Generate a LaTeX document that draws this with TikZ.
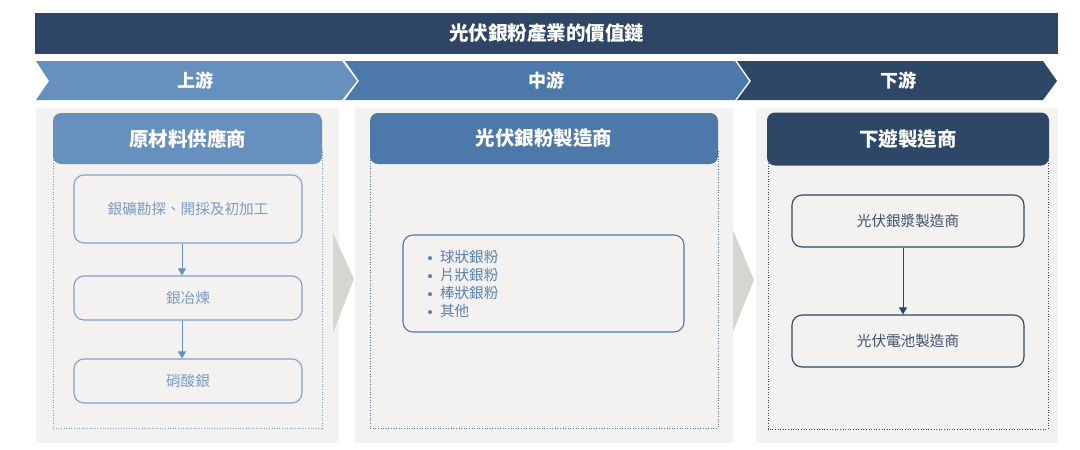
\documentclass[tikz,border=0pt]{standalone}
\usepackage{fontspec}
\newfontfamily\cjk{Noto Sans CJK TC}
\usetikzlibrary{arrows.meta}
\definecolor{cBanner}{RGB}{47,69,101}
\definecolor{cUp}{RGB}{102,144,190}
\definecolor{cMid}{RGB}{76,120,170}
\definecolor{cDown}{RGB}{46,71,102}
\definecolor{cPanel}{RGB}{243,242,240}
\definecolor{cArrowGray}{RGB}{214,214,208}
\definecolor{cUpLine}{RGB}{127,161,203}
\definecolor{cUpText}{RGB}{122,156,200}
\definecolor{cMidText}{RGB}{88,128,178}
\definecolor{cDownText}{RGB}{62,82,110}
\newcommand{\mybullet}{\makebox[12pt][l]{\raisebox{0.25ex}{\tikz\fill[cMidText] (0,0) circle (2pt);}}}
\tikzset{
  every node/.style={font=\cjk},
  chevtext/.style={text=white,font=\cjk\bfseries\fontsize{18}{21}\selectfont},
  headbox/.style={rounded corners=8pt,minimum width=269pt,minimum height=51pt,text=white,font=\cjk\bfseries\fontsize{19.5}{23}\selectfont},
  dotbox/.style={dash pattern=on 1pt off 1.6pt,line width=1pt},
  itembox/.style={draw,rounded corners=10pt,line width=1.1pt,font=\cjk\fontsize{14.6}{18}\selectfont},
  flow/.style={line width=1pt,-{Triangle[width=8pt,length=7pt]}},
}
\begin{document}
\begin{tikzpicture}[x=1pt,y=-1pt]
\useasboundingbox[fill=white] (0,0) rectangle (1080,450);
% banner
\node[fill=cBanner,minimum width=1023pt,minimum height=41pt,text=white,font=\cjk\bfseries\fontsize{19.5}{23}\selectfont] (title) at (546.5,33.5) {光伏銀粉產業的價值鏈};
% chevrons
\fill[cUp] (36,61) -- (49,81) -- (36,100) -- (342,100) -- (357,81) -- (342,61) -- cycle;
\fill[cMid] (345,61) -- (359,81) -- (345,100) -- (735,100) -- (749,81) -- (735,61) -- cycle;
\fill[cDown] (737,61) -- (751,81) -- (737,100) -- (1043,100) -- (1057,81) -- (1043,61) -- cycle;
\node[chevtext] (up) at (195,81) {上游};
\node[chevtext] (mid) at (546,81) {中游};
\node[chevtext] (down) at (898,81) {下游};
% panels
\fill[cPanel] (36,108) rectangle (339,443);
\fill[cPanel] (355,108) rectangle (733,443);
\fill[cPanel] (756,108) rectangle (1058,443);
% gray arrows
\fill[cArrowGray] (333,233) -- (354,279) -- (333,333) -- cycle;
\fill[cArrowGray] (733,230) -- (754,280) -- (733,332) -- cycle;
% dotted frames
\draw[dotbox,draw=cUpLine] (53,150) rectangle (322,428);
\draw[dotbox,draw=cMid] (370,150) rectangle (718,428);
\draw[dotbox,draw=cDown] (768,150) rectangle (1048,429);
% headers
\node[headbox,fill=cUp] (h1) at (187.5,138.5) {原材料供應商};
\node[headbox,fill=cMid,minimum width=348pt] (h2) at (544,138.5) {光伏銀粉製造商};
\node[headbox,fill=cDown,minimum width=282pt,minimum height=53pt] (h3) at (908,139) {下遊製造商};
% upstream items
\node[itembox,draw=cUpLine,text=cUpText,minimum width=228pt,minimum height=68pt] (a1) at (188,209) {銀礦勘探、開採及初加工};
\node[itembox,draw=cUpLine,text=cUpText,minimum width=228pt,minimum height=44pt] (a2) at (188,298) {銀冶煉};
\node[itembox,draw=cUpLine,text=cUpText,minimum width=228pt,minimum height=44pt] (a3) at (188,381) {硝酸銀};
\coordinate (lx) at (182,0);
\draw[flow,draw=cUp,fill=cUp] (a1.south -| lx) -- (a2.north -| lx);
\draw[flow,draw=cUp,fill=cUp] (a2.south -| lx) -- (a3.north -| lx);
% midstream
\node[itembox,draw=cMid,text=cMidText,minimum width=281pt,minimum height=97pt,text width=231pt,align=left,inner sep=0pt] (m1) at (543.5,283.5) {%
\fontsize{14.6}{18}\selectfont
\mybullet 球狀銀粉\\
\mybullet 片狀銀粉\\
\mybullet 棒狀銀粉\\
\mybullet 其他};
% downstream
\node[itembox,draw=cDown,text=cDownText,minimum width=232pt,minimum height=52pt] (r1) at (908,221) {光伏銀漿製造商};
\node[itembox,draw=cDown,text=cDownText,minimum width=232pt,minimum height=52pt] (r2) at (908,341) {光伏電池製造商};
\coordinate (rx) at (903,0);
\draw[flow,draw=cDown,fill=cDown] (r1.south -| rx) -- (r2.north -| rx);
\end{tikzpicture}
\end{document}
